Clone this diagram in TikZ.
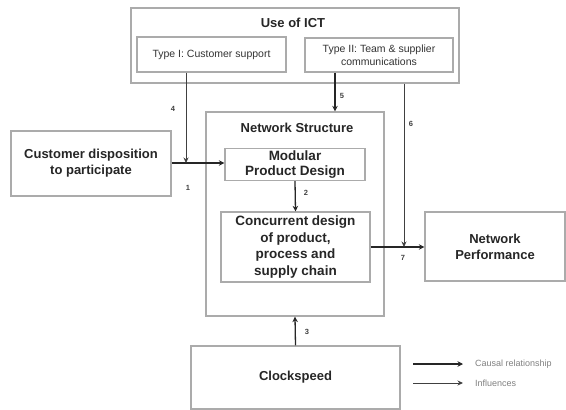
\documentclass[tikz,border=0pt]{standalone}
\usepackage{fontspec}
\setmainfont{Liberation Sans}
\usetikzlibrary{arrows.meta}
\begin{document}
\begin{tikzpicture}[x=1pt,y=-1pt,
  box/.style={draw=black!33, line width=1.3pt, fill=white, inner sep=0pt, align=center},
  title/.style={font=\fontsize{13}{16}\selectfont\bfseries, text=black!85},
  bigtitle/.style={font=\fontsize{13.5}{16.5}\selectfont\bfseries, text=black!85},
  subtitle/.style={font=\fontsize{10.5}{13}\selectfont, text=black!80},
  causal/.style={draw=black!85, line width=1.3pt, -{Stealth[length=5.5pt,width=5.5pt]}},
  influence/.style={draw=black!75, line width=0.8pt, -{Stealth[length=5.5pt,width=5pt]}},
  num/.style={font=\fontsize{7.5}{9}\selectfont\bfseries, text=black!75, inner sep=0pt},
  legendtext/.style={font=\fontsize{9}{11}\selectfont, text=black!50, anchor=west, inner sep=0pt}]
\useasboundingbox (0,0) rectangle (566,410);

% Use of ICT group
\node[box, minimum width=328pt, minimum height=75pt] (ict) at (295,45.5) {};
\node[title] (icttitle) at (293,23) {Use of ICT};
\node[box, subtitle, minimum width=149pt, minimum height=35pt] (t1) at (211.5,54.5) {Type I: Customer support};
\node[box, subtitle, minimum width=148pt, minimum height=34pt, font=\fontsize{10.5}{12.5}\selectfont] (t2) at (379,55) {Type II: Team \& supplier\\communications};

% Customer disposition
\node[box, title, minimum width=160pt, minimum height=65pt] (cust) at (91,163.5) {Customer disposition\\to participate};

% Network structure group
\node[box, minimum width=178pt, minimum height=204pt] (ns) at (295,214) {};
\node[title] (nstitle) at (297,128) {Network Structure};
\node[box, bigtitle, minimum width=140pt, minimum height=32pt] (mod) at (295,164.5) {Modular\\[-1pt]Product Design};
\node[box, bigtitle, minimum width=149pt, minimum height=70pt] (conc) at (295.5,247) {Concurrent design\\of product,\\process and\\supply chain};

% Outcome and driver
\node[box, title, minimum width=140pt, minimum height=69pt] (perf) at (495,246.5) {Network\\Performance};
\node[box, title, minimum width=209pt, minimum height=63pt] (clock) at (295.5,377.5) {Clockspeed};

% Junction points on the causal arrows
\coordinate (j4) at (186,163);
\coordinate (j6) at (404,247);

% Causal relationships
\draw[causal] (cust.east |- j4) -- (mod.west |- j4);
\draw[causal] (mod.south) -- (conc.north);
\draw[causal] (conc.east |- j6) -- (perf.west |- j6);
\draw[causal] (clock.north) -- (ns.south);
\draw[causal] (t2.south -| 335,0) -- (ns.north -| 335,0);

% Influences
\draw[influence] (t1.south -| j4) -- (j4);
\draw[influence] (ict.south -| j6) -- (j6);

% Relationship numbers
\node[num] (n1) at (188,188) {1};
\node[num] (n2) at (306,193) {2};
\node[num] (n3) at (307,332) {3};
\node[num] (n4) at (173,109) {4};
\node[num] (n5) at (342,96) {5};
\node[num] (n6) at (411,124) {6};
\node[num] (n7) at (403,258) {7};

% Legend
\coordinate (la1) at (413,364);
\coordinate (lb1) at (463,364);
\coordinate (la2) at (413,383);
\coordinate (lb2) at (463,383);
\draw[causal] (la1) -- (lb1);
\draw[influence] (la2) -- (lb2);
\node[legendtext] (lt1) at (475,364) {Causal relationship};
\node[legendtext] (lt2) at (475,383) {Influences};
\end{tikzpicture}
\end{document}
